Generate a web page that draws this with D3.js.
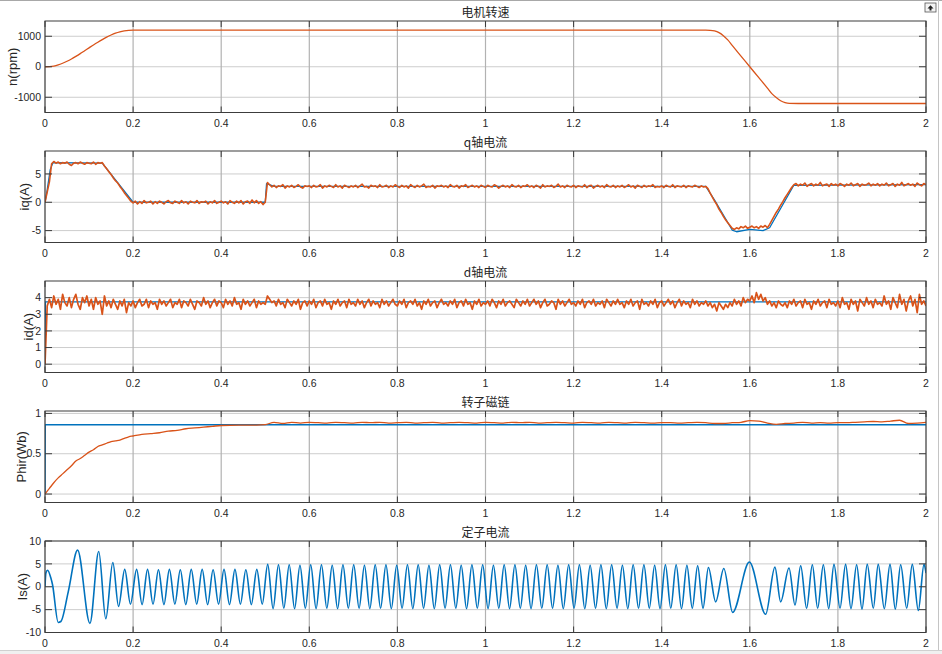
<!DOCTYPE html>
<html>
<head>
<meta charset="utf-8">
<script src="https://cdn.jsdelivr.net/npm/d3@7"></script>
<style>
  html, body { margin: 0; padding: 0; background: #fff; }
  svg { display: block; }
</style>
</head>
<body>
<div id="chart"></div>
<script>
// 横轴刻度 (s)
const timeTicks = [0, 0.2, 0.4, 0.6, 0.8, 1, 1.2, 1.4, 1.6, 1.8, 2];

// 电机转速 n(rpm)
const speedTime = [0, 0.01, 0.02, 0.03, 0.04, 0.05, 0.06, 0.07, 0.08, 0.09, 0.1, 0.11, 0.12, 0.13, 0.14, 0.15, 0.16, 0.17, 0.18, 0.19, 0.2, 0.21,
  0.5, 1.0, 1.5, 1.51, 1.52, 1.53, 1.54, 1.55, 1.56, 1.58, 1.6, 1.62, 1.64, 1.65, 1.66, 1.67, 1.68, 1.69, 1.71, 2];
const speedValue = [0, 5, 22, 60, 115, 180, 255, 340, 430, 525, 620, 715, 805, 890, 970, 1040, 1100, 1145, 1175, 1193, 1200, 1200,
  1198, 1200, 1200, 1195, 1175, 1120, 1020, 880, 700, 350, 0, -350, -700, -880, -1010, -1115, -1175, -1200, -1205, -1205];

// q轴电流 (蓝: 实际, 稀疏读点)
const iqBlueTime = [0, 0.005, 0.012, 0.018, 0.13, 0.2, 0.5, 0.503, 0.52, 1.5, 1.52, 1.56, 1.57, 1.6, 1.63, 1.645, 1.7, 2];
const iqBlueValue = [0, 2.2, 5.8, 7.0, 6.9, 0, 0, 3.3, 2.8, 2.8, 0.4, -4.9, -5.2, -4.8, -5.0, -4.5, 3.0, 3.1];

// q轴电流 (橙), 每 0.005 s 一个点
const iqOrange = [
  0, 1.8, 3.6, 6.8, 7.2, 6.9, 7.1, 6.8, 7.0, 6.9, 7.1, 6.7, 6.5, 6.9, 7.0, 6.8, 7.1, 6.9, 6.7, 7.0,
  6.9, 6.8, 7.1, 6.7, 7.0, 6.9, 7.0, 6.4, 5.9, 5.4, 4.9, 4.3, 3.8, 3.4, 2.8, 2.3, 1.7, 1.2, 0.7, 0.2,
  -0.1, 0.2, -0.3, 0.1, -0.2, 0.3, -0.1, 0.0, 0.2, -0.3, 0.1, -0.2, 0.2, 0.0, -0.3, 0.1, 0.3, -0.1, -0.2, 0.2,
  0.0, -0.2, 0.3, -0.1, 0.1, -0.3, 0.2, 0.0, -0.1, 0.3, -0.2, 0.1, 0.0, 0.2, -0.3, 0.1, -0.1, 0.3, -0.2, 0.0,
  0.2, -0.1, 0.1, -0.3, 0.3, 0.0, -0.2, 0.2, -0.1, 0.3, -0.3, 0.1, 0.2, -0.2, 0.4, -0.1, 0.3, -0.2, 0.1, -0.4,
  0.0, 3.5, 3.1, 2.7, 3.0, 2.6, 2.9, 2.8, 3.1, 2.5, 2.9, 2.7, 3.0, 2.6, 2.8, 3.1, 2.7, 2.5, 2.9, 2.8,
  2.9, 2.6, 3.0, 2.7, 2.8, 3.1, 2.5, 2.9, 2.7, 3.0, 2.8, 2.6, 3.1, 2.7, 2.9, 2.5, 3.0, 2.8, 2.6, 2.9,
  2.7, 3.0, 2.6, 2.9, 3.2, 2.7, 2.8, 2.5, 3.0, 2.8, 2.9, 2.6, 3.1, 2.7, 2.8, 3.0, 2.6, 2.9, 2.7, 3.1,
  2.8, 2.6, 3.0, 2.7, 2.9, 2.5, 3.1, 2.8, 2.6, 3.0, 2.7, 2.9, 3.2, 2.6, 2.8, 2.7, 3.0, 2.5, 2.9, 2.8,
  3.0, 2.7, 2.9, 2.6, 3.1, 2.8, 2.7, 3.0, 2.5, 2.9, 2.8, 3.1, 2.6, 2.8, 3.0, 2.7, 2.9, 2.6, 3.0, 2.8,
  2.6, 3.0, 2.8, 2.7, 3.1, 2.9, 2.5, 2.8, 3.0, 2.7, 2.9, 2.6, 3.1, 2.8, 2.7, 3.0, 2.6, 2.9, 2.8, 3.1,
  2.7, 2.9, 2.6, 3.0, 2.8, 2.5, 3.1, 2.7, 2.9, 2.8, 3.0, 2.6, 2.8, 3.2, 2.7, 2.9, 2.6, 3.0, 2.8, 2.7,
  3.0, 2.6, 2.9, 2.8, 2.7, 3.1, 2.6, 2.9, 3.0, 2.5, 2.8, 3.0, 2.7, 2.9, 2.6, 3.1, 2.8, 2.7, 3.0, 2.6,
  2.9, 2.7, 3.0, 2.6, 2.8, 3.1, 2.7, 2.9, 2.5, 3.0, 2.8, 2.6, 3.0, 2.7, 2.9, 2.8, 3.1, 2.6, 2.8, 2.7,
  2.9, 2.6, 3.0, 2.8, 2.7, 3.1, 2.6, 2.9, 2.8, 2.7, 3.0, 2.6, 2.9, 2.8, 2.7, 3.0, 2.8, 2.6, 2.9, 2.7,
  2.8, 2.4, 1.6, 0.9, 0.2, -0.4, -1.2, -1.8, -2.5, -3.1, -3.6, -4.1, -4.6, -4.8, -4.5, -4.7, -4.3, -4.5, -4.2, -4.6,
  -4.4, -4.2, -4.5, -4.3, -4.6, -4.2, -4.4, -4.1, -4.5, -3.9, -3.2, -2.5, -1.8, -1.2, -0.5, 0.1, 0.8, 1.4, 2.0, 2.6,
  3.1, 3.3, 2.9, 3.2, 3.0, 3.4, 2.8, 3.1, 3.3, 2.9, 3.2, 3.0, 3.5, 2.9, 3.1, 3.2, 2.8, 3.3, 3.0, 3.2,
  2.9, 3.3, 3.1, 2.8, 3.2, 3.0, 3.4, 2.9, 3.1, 3.3, 2.8, 3.2, 3.0, 3.1, 3.4, 2.9, 3.2, 3.0, 3.3, 2.9,
  3.2, 3.0, 3.4, 2.9, 3.1, 3.3, 2.8, 3.2, 3.0, 3.5, 2.9, 3.1, 3.3, 3.0, 3.2, 2.8, 3.4, 3.1, 2.9, 3.3,
  3.1
];

// d轴电流 (蓝: 给定)
const idBlueTime = [0, 0.001, 2];
const idBlueValue = [0, 3.75, 3.75];

// d轴电流 (橙), 每 0.005 s 一个点
const idOrange = [
  0, 3.5, 3.9, 3.4, 4.1, 3.6, 3.9, 3.3, 4.2, 3.7, 3.5, 4.0, 3.4, 3.9, 4.2, 3.6, 3.3, 4.0, 3.7, 4.1,
  3.5, 3.9, 3.3, 4.0, 3.6, 3.8, 3.0, 4.1, 3.5, 3.8, 3.4, 3.9, 3.6, 3.3, 3.8, 3.5, 3.9, 3.1, 3.7, 3.5,
  3.8, 3.4, 3.7, 3.9, 3.5, 3.6, 3.9, 3.4, 3.8, 3.6, 3.7, 3.3, 3.9, 3.6, 3.8, 3.5, 3.7, 3.9, 3.4, 3.7,
  3.6, 3.9, 3.4, 3.8, 3.7, 3.5, 3.9, 3.6, 3.3, 3.8, 3.7, 3.5, 4.0, 3.6, 3.8, 3.4, 3.7, 3.9, 3.5, 3.8,
  3.7, 3.4, 3.9, 3.6, 3.8, 3.5, 4.0, 3.6, 3.7, 3.3, 3.9, 3.6, 3.8, 3.5, 3.7, 3.9, 3.4, 3.8, 3.6, 3.7,
  3.6, 4.1, 3.9, 3.7, 3.8, 3.5, 3.9, 3.6, 3.7, 3.4, 3.9, 3.7, 3.5, 3.8, 3.6, 3.9, 3.3, 3.7, 3.8, 3.5,
  3.8, 3.6, 3.9, 3.4, 3.7, 3.8, 3.5, 3.9, 3.6, 3.7, 3.3, 3.8, 3.6, 3.9, 3.5, 3.7, 3.8, 3.4, 3.9, 3.6,
  3.7, 3.5, 3.9, 3.6, 3.8, 3.4, 3.7, 3.9, 3.5, 3.8, 3.6, 3.7, 3.4, 3.9, 3.6, 3.8, 3.5, 3.7, 3.9, 3.6,
  3.5, 3.8, 3.6, 3.9, 3.4, 3.7, 3.8, 3.6, 3.9, 3.5, 3.7, 3.3, 3.8, 3.6, 3.9, 3.5, 3.7, 3.8, 3.4, 3.7,
  3.9, 3.6, 3.7, 3.5, 3.8, 3.6, 3.9, 3.4, 3.7, 3.8, 3.5, 3.9, 3.6, 3.7, 3.3, 3.8, 3.6, 3.9, 3.5, 3.7,
  3.6, 3.8, 3.5, 3.9, 3.7, 3.4, 3.8, 3.6, 3.9, 3.5, 3.7, 3.8, 3.6, 3.4, 3.9, 3.7, 3.5, 3.8, 3.6, 3.9,
  3.5, 3.7, 3.9, 3.6, 3.8, 3.4, 3.7, 3.9, 3.5, 3.6, 3.8, 3.7, 3.3, 3.9, 3.6, 3.8, 3.5, 3.7, 3.9, 3.6,
  3.7, 3.5, 3.8, 3.6, 3.9, 3.4, 3.7, 3.8, 3.6, 3.9, 3.5, 3.7, 3.6, 3.8, 3.4, 3.9, 3.7, 3.5, 3.8, 3.6,
  3.9, 3.6, 3.7, 3.4, 3.8, 3.6, 3.9, 3.5, 3.7, 3.8, 3.3, 3.9, 3.6, 3.7, 3.5, 3.8, 3.6, 3.9, 3.4, 3.7,
  3.8, 3.5, 3.7, 3.9, 3.6, 3.8, 3.4, 3.7, 3.9, 3.5, 3.8, 3.6, 3.7, 3.4, 3.9, 3.6, 3.8, 3.5, 3.7, 3.6,
  3.8, 3.5, 3.7, 3.4, 3.6, 3.2, 3.7, 3.5, 3.3, 3.6, 3.4, 3.7, 3.5, 3.9, 3.6, 3.8, 3.5, 4.0, 3.7, 3.9,
  3.8, 4.1, 3.7, 4.3, 3.9, 4.2, 3.8, 4.0, 3.6, 3.8, 3.5, 3.7, 3.4, 3.8, 3.6, 3.5, 3.7, 3.4, 3.8, 3.6,
  3.9, 3.5, 3.7, 3.8, 3.4, 3.9, 3.6, 3.7, 3.3, 3.8, 3.6, 3.9, 3.5, 3.7, 3.8, 3.4, 3.9, 3.6, 3.7, 3.5,
  3.8, 3.4, 4.0, 3.6, 3.7, 3.3, 3.9, 3.6, 3.8, 3.2, 3.9, 3.7, 3.5, 4.0, 3.6, 3.8, 3.4, 3.9, 3.6, 3.7,
  3.5, 4.1, 3.6, 3.8, 3.3, 4.0, 3.7, 3.4, 4.2, 3.6, 3.9, 3.2, 3.8, 4.1, 3.5, 3.9, 3.1, 4.2, 3.6, 3.8,
  3.5
];
const sampleStep = 0.005;

// 转子磁链 (蓝: 给定)
const fluxBlueTime = [0, 0.0005, 2];
const fluxBlueValue = [0, 0.86, 0.86];

// 转子磁链 (橙: 观测)
const fluxOrangeTime = [0, 0.01, 0.02, 0.03, 0.04, 0.05, 0.06, 0.07, 0.08, 0.09, 0.1, 0.11, 0.12, 0.13, 0.14, 0.15, 0.16, 0.17, 0.18, 0.19, 0.2,
  0.22, 0.24, 0.26, 0.28, 0.3, 0.32, 0.34, 0.36, 0.38, 0.4, 0.44, 0.48,
  0.5, 0.52, 0.54, 0.56, 0.58, 0.6, 0.62, 0.64, 0.66, 0.68, 0.7, 0.72, 0.74, 0.76, 0.78, 0.8, 0.82, 0.84, 0.86, 0.88, 0.9,
  0.92, 0.94, 0.96, 0.98, 1.0, 1.02, 1.04, 1.06, 1.08, 1.1, 1.12, 1.14, 1.16, 1.18, 1.2, 1.22, 1.24, 1.26, 1.28, 1.3,
  1.32, 1.34, 1.36, 1.38, 1.4, 1.42, 1.44, 1.46, 1.48, 1.5, 1.52, 1.54, 1.56, 1.58, 1.6, 1.62, 1.64, 1.66, 1.68, 1.7,
  1.72, 1.74, 1.76, 1.78, 1.8, 1.82, 1.84, 1.86, 1.88, 1.9, 1.92, 1.94, 1.96, 1.98, 2.0];
const fluxOrangeValue = [0, 0.07, 0.14, 0.2, 0.25, 0.3, 0.35, 0.41, 0.44, 0.48, 0.52, 0.55, 0.59, 0.61, 0.63, 0.65, 0.66, 0.67, 0.69, 0.71, 0.72,
  0.74, 0.75, 0.76, 0.78, 0.79, 0.81, 0.82, 0.83, 0.84, 0.85, 0.855, 0.855,
  0.86, 0.89, 0.875, 0.89, 0.88, 0.89, 0.885, 0.88, 0.89, 0.885, 0.88, 0.89, 0.885, 0.89, 0.88, 0.885, 0.89, 0.88, 0.885, 0.89, 0.88,
  0.885, 0.89, 0.885, 0.88, 0.89, 0.885, 0.88, 0.89, 0.885, 0.89, 0.88, 0.885, 0.89, 0.885, 0.88, 0.89, 0.885, 0.88, 0.89, 0.885,
  0.88, 0.89, 0.885, 0.88, 0.885, 0.885, 0.88, 0.885, 0.89, 0.885, 0.875, 0.875, 0.885, 0.89, 0.91, 0.905, 0.88, 0.865, 0.875, 0.88,
  0.89, 0.88, 0.885, 0.88, 0.885, 0.885, 0.89, 0.895, 0.9, 0.895, 0.905, 0.915, 0.875, 0.88, 0.89];

// 定子电流: 读出的波峰/波谷 [t, A]
const isPoints = [
  [0, 0], [0.002, 3.0], [0.006, 3.6], [0.013, 2.0], [0.017, 0.5], [0.030, -7.8], [0.036, -7.6], [0.053, -1.0],
  [0.074, 8.0], [0.102, -8.0], [0.122, 7.7], [0.138, -7.0], [0.154, 5.3], [0.167, -4.3], [0.181, 3.8], [0.194, -3.8],
  [0.208, 3.8], [0.2204, -3.9], [0.2328, 3.8], [0.2452, -3.8], [0.2576, 3.7], [0.27, -3.9], [0.2824, 3.8], [0.2948, -3.8],
  [0.3072, 3.7], [0.3196, -3.9], [0.332, 3.8], [0.3444, -3.8], [0.3568, 3.8], [0.3692, -3.9], [0.3816, 3.7], [0.394, -3.8],
  [0.4064, 3.8], [0.4188, -3.9], [0.4312, 3.8], [0.4436, -3.8], [0.456, 3.7], [0.4684, -3.9], [0.4808, 3.8], [0.4932, -3.8],
  [0.5056, 4.9], [0.5178, -4.8], [0.53, 4.8], [0.5422, -4.7], [0.5544, 4.8], [0.5666, -4.8], [0.5788, 4.7], [0.591, -4.7],
  [0.6032, 4.8], [0.6154, -4.8], [0.6276, 4.8], [0.6398, -4.7], [0.652, 4.7], [0.6642, -4.8], [0.6764, 4.8], [0.6886, -4.7],
  [0.7008, 4.8], [0.713, -4.7], [0.7252, 4.7], [0.7374, -4.8], [0.7496, 4.8], [0.7618, -4.7], [0.774, 4.8], [0.7862, -4.8],
  [0.7984, 4.7], [0.8106, -4.7], [0.8228, 4.8], [0.835, -4.8], [0.8472, 4.8], [0.8594, -4.7], [0.8716, 4.7], [0.8838, -4.8],
  [0.896, 4.8], [0.9082, -4.7], [0.9204, 4.8], [0.9326, -4.7], [0.9448, 4.7], [0.957, -4.8], [0.9692, 4.8], [0.9814, -4.7],
  [0.9936, 4.8], [1.0058, -4.8], [1.018, 4.7], [1.0302, -4.7], [1.0424, 4.8], [1.0546, -4.8], [1.0668, 4.8], [1.079, -4.7],
  [1.0912, 4.7], [1.1034, -4.8], [1.1156, 4.8], [1.1278, -4.7], [1.14, 4.8], [1.1522, -4.7], [1.1644, 4.7], [1.1766, -4.8],
  [1.1888, 4.8], [1.201, -4.7], [1.2132, 4.8], [1.2254, -4.8], [1.2376, 4.7], [1.2498, -4.7], [1.262, 4.8], [1.2742, -4.8],
  [1.2864, 4.8], [1.2986, -4.7], [1.3108, 4.7], [1.323, -4.8], [1.3352, 4.8], [1.3474, -4.7], [1.3596, 4.8], [1.3718, -4.7],
  [1.384, 4.7], [1.3962, -4.8], [1.4084, 4.8], [1.4206, -4.7], [1.4328, 4.8], [1.445, -4.8], [1.4572, 4.7], [1.4694, -4.7],
  [1.4816, 4.6], [1.4938, -4.7], [1.506, 4.2], [1.5225, -3.3], [1.541, 4.0], [1.561, -5.6], [1.599, 5.4], [1.636, -6.0],
  [1.657, 4.3], [1.670, -3.3], [1.689, 4.1], [1.7026, -4.0], [1.7155, 4.6], [1.729, -4.7], [1.742, 4.8], [1.754, -4.7],
  [1.767, 4.8], [1.7791, -4.8], [1.7911, 4.9], [1.8048, -4.7], [1.8175, 4.9], [1.8297, -4.8], [1.8425, 4.8], [1.8547, -4.9],
  [1.8666, 4.9], [1.8804, -4.7], [1.8915, 4.9], [1.9054, -4.8], [1.9183, 4.9], [1.9303, -4.9], [1.9425, 4.8], [1.9562, -4.7],
  [1.9689, 4.9], [1.9825, -5.2], [1.9955, 4.9], [2.0, 3.0]
];

// 子图标题 / 纵轴
const panelTitles = ['电机转速', 'q轴电流', 'd轴电流', '转子磁链', '定子电流'];
const yLabels = ['n(rpm)', 'iq(A)', 'id(A)', 'Phir(Wb)', 'Is(A)'];
const yDomains = [[-1500, 1500], [-7.1, 9.05], [-0.5, 5], [-0.105, 1.03], [-10, 10]];
const yTicks = [[-1000, 0, 1000], [-5, 0, 5], [0, 1, 2, 3, 4], [0, 0.5, 1], [-10, -5, 0, 5, 10]];

const BLUE = '#0072BD';
const ORANGE = '#D95319';

function drawChart() {
  const width = 942, height = 654;
  const left = 45, right = 926;
  const tops = [21, 151, 281, 411, 541];
  const ph = 91.5;
  const labelX = [12, 24, 28, 21, 22];

  const svg = d3.select('#chart').append('svg')
    .attr('width', width).attr('height', height)
    .style('font-family', '"Liberation Sans", Arial, sans-serif');

  svg.append('rect').attr('width', width).attr('height', height).attr('fill', '#fff');

  // 窗口边框
  svg.append('line').attr('x1', 0).attr('x2', width).attr('y1', 0.5).attr('y2', 0.5).attr('stroke', '#a8a8a8');
  svg.append('line').attr('x1', 938.5).attr('x2', 938.5).attr('y1', 0).attr('y2', height).attr('stroke', '#c4c4c4');
  svg.append('rect').attr('x', 0).attr('y', 650).attr('width', width).attr('height', 4).attr('fill', '#f0f0f0');
  svg.append('line').attr('x1', 0).attr('x2', width).attr('y1', 650.5).attr('y2', 650.5).attr('stroke', '#d0d0d0');
  const icon = svg.append('g').attr('transform', 'translate(925,3)');
  icon.append('rect').attr('width', 11).attr('height', 9).attr('fill', '#f4f4f4').attr('stroke', '#555').attr('stroke-width', 0.8);
  icon.append('path').attr('d', 'M2.5,5.5 L5.5,2.2 L8.5,5.5 Z M4.5,5.5 h2 v2 h-2 Z').attr('fill', '#222');

  const x = d3.scaleLinear().domain([0, 2]).range([left, right]);

  // 各子图的曲线
  const series = [
    [{ t: speedTime, v: speedValue, color: ORANGE, curve: d3.curveMonotoneX, w: 1.3 }],
    [{ t: iqBlueTime, v: iqBlueValue, color: BLUE, curve: d3.curveLinear, w: 1.3 },
     { t: iqOrange.map((d, i) => i * sampleStep), v: iqOrange, color: ORANGE, curve: d3.curveLinear, w: 1.6 }],
    [{ t: idBlueTime, v: idBlueValue, color: BLUE, curve: d3.curveLinear, w: 1.3 },
     { t: idOrange.map((d, i) => i * sampleStep), v: idOrange, color: ORANGE, curve: d3.curveLinear, w: 1.7 }],
    [{ t: fluxBlueTime, v: fluxBlueValue, color: BLUE, curve: d3.curveLinear, w: 1.4 },
     { t: fluxOrangeTime, v: fluxOrangeValue, color: ORANGE, curve: d3.curveMonotoneX, w: 1.3 }],
    [{ t: isPoints.map(d => d[0]), v: isPoints.map(d => d[1]), color: BLUE, curve: d3.curveMonotoneX, w: 1.6 }]
  ];

  tops.forEach((top, k) => {
    const bottom = top + ph;
    const y = d3.scaleLinear().domain(yDomains[k]).range([bottom, top]);
    const g = svg.append('g');

    // 网格
    g.append('g').selectAll('line').data(yTicks[k]).join('line')
      .attr('x1', left).attr('x2', right)
      .attr('y1', d => y(d)).attr('y2', d => y(d))
      .attr('stroke', '#cdcdcd').attr('stroke-width', 1);
    g.append('g').selectAll('line').data(timeTicks).join('line')
      .attr('x1', d => x(d)).attr('x2', d => x(d))
      .attr('y1', top).attr('y2', bottom)
      .attr('stroke', '#b2b2b2').attr('stroke-width', 1.2);

    // 曲线
    const clipId = 'clip' + k;
    svg.append('clipPath').attr('id', clipId).append('rect')
      .attr('x', left).attr('y', top).attr('width', right - left).attr('height', ph);
    const lines = g.append('g').attr('clip-path', `url(#${clipId})`);
    series[k].forEach(s => {
      const pts = s.t.map((t, i) => [t, s.v[i]]);
      const line = d3.line().x(d => x(d[0])).y(d => y(d[1])).curve(s.curve);
      lines.append('path').datum(pts)
        .attr('d', line)
        .attr('fill', 'none')
        .attr('stroke', s.color)
        .attr('stroke-width', s.w)
        .attr('stroke-linejoin', 'round');
    });

    // 坐标框和内向刻度
    g.append('rect').attr('x', left).attr('y', top).attr('width', right - left).attr('height', ph)
      .attr('fill', 'none').attr('stroke', '#3c3c3c').attr('stroke-width', 1);
    const tickG = g.append('g').attr('stroke', '#3c3c3c').attr('stroke-width', 1);
    timeTicks.forEach(t => {
      tickG.append('line').attr('x1', x(t)).attr('x2', x(t)).attr('y1', bottom).attr('y2', bottom - 6);
      tickG.append('line').attr('x1', x(t)).attr('x2', x(t)).attr('y1', top).attr('y2', top + 6);
    });
    yTicks[k].forEach(v => {
      tickG.append('line').attr('x1', left).attr('x2', left + 7).attr('y1', y(v)).attr('y2', y(v));
      tickG.append('line').attr('x1', right).attr('x2', right - 7).attr('y1', y(v)).attr('y2', y(v));
    });

    // 刻度文字
    g.append('g').selectAll('text').data(timeTicks).join('text')
      .attr('x', d => x(d)).attr('y', bottom + 14)
      .attr('text-anchor', 'middle')
      .attr('font-size', 10.5).attr('fill', '#262626')
      .text(d => String(Math.round(d * 10) / 10));
    g.append('g').selectAll('text').data(yTicks[k]).join('text')
      .attr('x', left - 4).attr('y', d => y(d)).attr('dy', '0.35em')
      .attr('text-anchor', 'end')
      .attr('font-size', 10.5).attr('fill', '#262626')
      .text(d => String(d));

    // 标题和纵轴名
    g.append('text')
      .attr('x', (left + right) / 2).attr('y', top - 4)
      .attr('text-anchor', 'middle')
      .attr('font-family', '"Noto Sans CJK SC", sans-serif')
      .attr('font-size', 12).attr('fill', '#262626')
      .text(panelTitles[k]);
    g.append('text')
      .attr('transform', `translate(${labelX[k]},${(top + bottom) / 2}) rotate(-90)`)
      .attr('dy', '0.35em')
      .attr('text-anchor', 'middle')
      .attr('font-size', 13).attr('fill', '#262626')
      .text(yLabels[k]);
  });
}

drawChart();
</script>
</body>
</html>
